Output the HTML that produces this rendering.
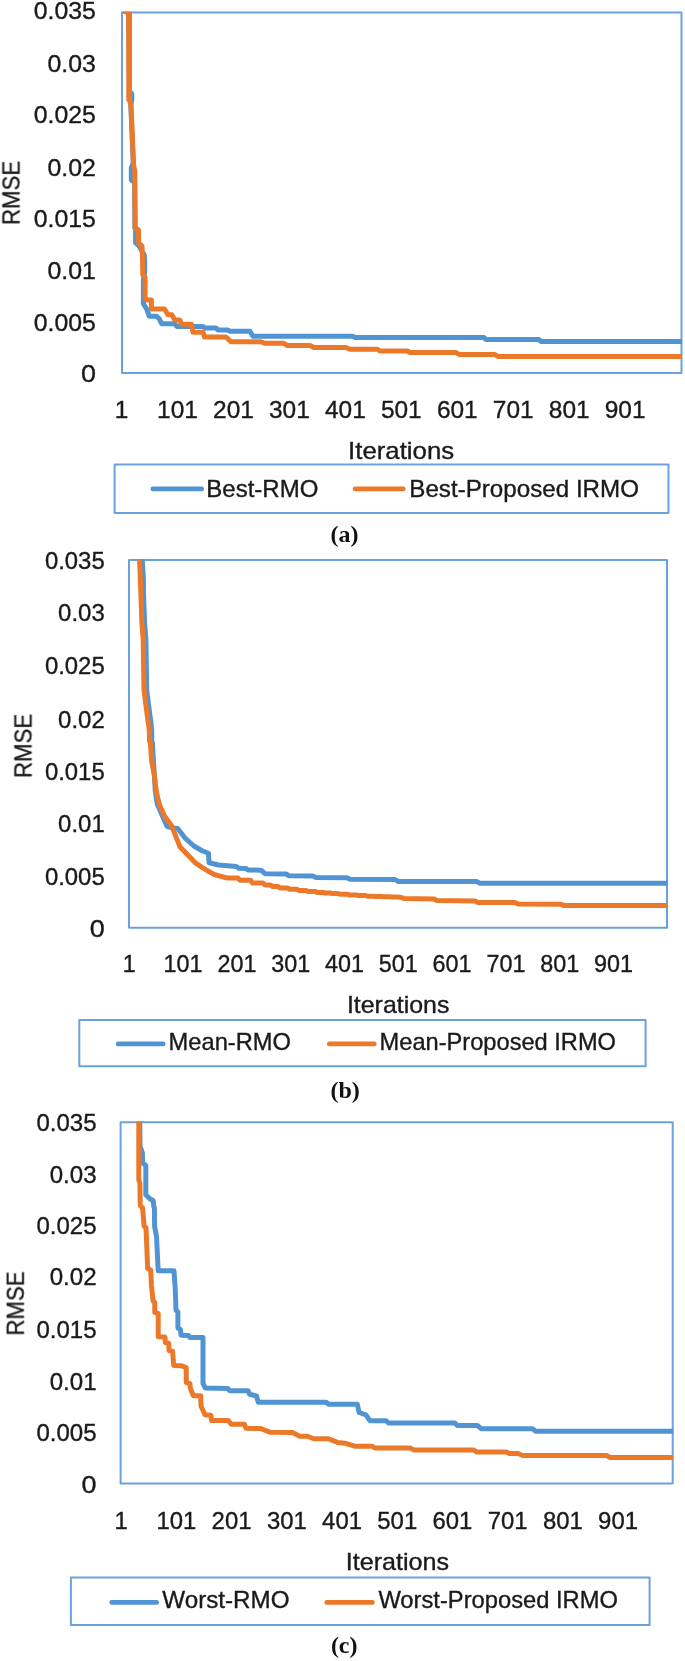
<!DOCTYPE html>
<html><head><meta charset="utf-8"><title>RMSE convergence</title>
<style>
html,body{margin:0;padding:0;background:#fff;}
body{width:685px;height:1661px;overflow:hidden;}
svg{display:block;filter:blur(0.5px);}
text{font-family:"Liberation Sans",sans-serif;fill:#1a1a1a;stroke:#1a1a1a;stroke-width:0.35px;}
.cap{stroke:none;font-family:"Liberation Serif",serif;font-weight:bold;font-size:24px;fill:#111;}
</style></head><body>
<svg width="685" height="1661" viewBox="0 0 685 1661">
<rect width="685" height="1661" fill="#ffffff"/>
<g id="chart0">
<clipPath id="clip0"><rect x="122" y="11.9" width="560.5" height="365.4"/></clipPath>
<rect x="122" y="12.6" width="559.5" height="360.4" fill="none" stroke="#6AA3DB" stroke-width="2" stroke-linejoin="round"/>
<g clip-path="url(#clip0)" fill="none" stroke-width="5" stroke-linejoin="round" stroke-linecap="butt">
<polyline stroke="#5194D3" points="122.5,4.0 128.8,13.0 129.6,91.0 131.8,94.0 131.8,100.0 130.8,105.0 133.2,163.0 131.3,168.0 131.3,180.0 134.6,182.0 134.9,228.0 135.6,230.0 135.6,243.0 139.0,246.0 144.3,255.0 144.7,262.0 144.7,272.0 143.4,280.0 143.4,303.8 147.0,309.6 149.2,316.2 156.5,316.2 159.4,319.0 161.6,323.8 174.7,323.8 177.0,326.5 203.0,326.5 205.0,328.0 216.0,328.0 218.0,330.0 228.0,330.0 230.0,331.3 250.0,331.3 253.0,336.3 353.0,336.3 355.0,337.5 484.0,337.5 486.0,339.5 539.0,339.5 541.0,341.5 682.0,341.5"/>
<polyline stroke="#EC7829" points="122.5,4.0 128.8,13.0 129.3,100.0 131.0,105.0 133.6,165.0 134.8,171.0 135.2,228.0 138.5,230.0 138.5,243.0 142.0,246.0 142.6,262.0 142.8,275.0 145.1,277.0 145.1,298.0 147.0,300.0 151.4,300.0 151.4,309.0 164.5,309.0 168.0,314.7 171.8,314.7 174.7,319.9 179.9,319.9 181.3,324.2 191.5,324.2 193.0,332.3 203.2,332.3 204.5,337.0 226.0,337.0 231.0,341.8 261.0,341.8 265.0,343.3 283.8,343.3 287.5,345.5 310.0,345.5 313.8,347.5 346.0,347.5 350.0,349.3 377.5,349.3 380.0,351.0 407.5,351.0 410.0,352.5 456.0,352.5 459.0,354.5 495.0,354.5 498.0,356.5 682.0,356.4"/>
<polyline stroke="#EC7829" stroke-width="5.6" points="129.2,10.0 129.2,101.0"/>
</g>
<polygon fill="#EC7829" points="122.9,11.5 132.0,11.5 132.0,15.0 127.0,15.0 122.9,13.4"/>
<rect x="114.6" y="464.4" width="553.9" height="48.5" fill="#fff" stroke="#6AA3DB" stroke-width="2" stroke-linejoin="round"/>
<line x1="152.8" y1="488.9" x2="201.7" y2="488.9" stroke="#5194D3" stroke-width="4.6" stroke-linecap="round"/>
<line x1="355" y1="488.9" x2="403.3" y2="488.9" stroke="#EC7829" stroke-width="4.6" stroke-linecap="round"/>
</g>
<g id="chart1">
<clipPath id="clip1"><rect x="129" y="559.3" width="539.0" height="372.79999999999995"/></clipPath>
<rect x="129" y="560.0" width="538.0" height="367.79999999999995" fill="none" stroke="#6AA3DB" stroke-width="2" stroke-linejoin="round"/>
<g clip-path="url(#clip1)" fill="none" stroke-width="5" stroke-linejoin="round" stroke-linecap="butt">
<polyline stroke="#5194D3" points="142.0,550.0 142.2,560.0 143.4,578.0 143.5,593.8 144.6,623.0 145.9,640.0 146.7,689.6 148.1,701.3 150.8,721.8 151.7,730.0 151.7,741.0 152.4,743.0 153.4,760.7 154.3,773.8 155.3,791.3 156.6,800.0 157.4,804.4 161.8,814.6 167.0,826.3 172.0,828.0 177.7,828.5 185.0,838.0 193.8,846.0 202.6,851.0 208.4,853.3 209.1,862.8 218.6,865.0 236.1,866.4 239.0,868.3 246.0,868.5 248.0,870.0 261.0,870.2 265.0,873.7 286.0,874.0 289.0,875.7 313.0,876.0 316.0,877.4 347.0,877.7 350.0,879.2 395.0,879.5 398.0,881.4 477.0,881.6 480.0,883.3 667.5,883.3"/>
<polyline stroke="#EC7829" points="139.4,550.0 139.6,560.0 140.9,593.8 141.9,623.0 143.2,640.0 144.0,689.6 145.4,701.3 148.1,721.8 149.3,730.0 149.5,741.0 150.4,743.0 151.6,760.7 154.1,773.8 156.3,791.3 158.2,800.0 159.9,805.9 164.5,816.0 171.9,826.3 179.9,846.7 195.3,862.8 204.0,868.6 214.2,874.5 227.4,878.1 238.0,878.1 240.0,880.3 250.5,880.3 252.5,883.0 263.0,883.0 265.0,885.0 270.5,885.0 272.5,886.5 278.0,886.5 280.0,888.0 287.4,888.0 289.4,889.2 296.7,889.2 298.7,890.4 306.0,890.4 308.0,891.4 315.4,891.4 317.4,892.4 322.9,892.4 324.9,893.0 330.5,893.0 332.5,893.6 338.0,893.6 340.0,894.2 347.1,894.2 349.1,894.9 356.2,894.9 358.2,895.5 365.3,895.5 367.3,896.2 373.5,896.2 375.5,896.5 381.6,896.5 383.6,896.7 389.8,896.7 391.8,897.0 398.0,897.0 400.0,897.2 403.7,898.4 434.0,898.9 437.0,900.4 475.0,900.9 478.0,902.4 515.0,902.6 518.0,904.1 561.0,904.3 564.0,905.6 667.5,905.6"/>
</g>
<rect x="79.3" y="1019.9" width="566.3000000000001" height="46.39999999999998" fill="#fff" stroke="#6AA3DB" stroke-width="2" stroke-linejoin="round"/>
<line x1="118" y1="1043.9" x2="163.2" y2="1043.9" stroke="#5194D3" stroke-width="4.6" stroke-linecap="round"/>
<line x1="329.2" y1="1043.9" x2="374.3" y2="1043.9" stroke="#EC7829" stroke-width="4.6" stroke-linecap="round"/>
</g>
<g id="chart2">
<clipPath id="clip2"><rect x="120.6" y="1121.5" width="553.1" height="366.39999999999986"/></clipPath>
<rect x="120.6" y="1122.2" width="552.1" height="361.39999999999986" fill="none" stroke="#6AA3DB" stroke-width="2" stroke-linejoin="round"/>
<g clip-path="url(#clip2)" fill="none" stroke-width="5" stroke-linejoin="round" stroke-linecap="butt">
<polyline stroke="#5194D3" points="139.5,1112.0 139.8,1122.0 140.0,1146.0 142.4,1153.0 142.6,1163.0 145.8,1165.5 145.8,1194.7 150.1,1199.0 153.1,1200.5 153.8,1206.4 154.4,1208.0 154.6,1226.3 156.5,1236.5 158.2,1270.8 174.0,1270.8 175.3,1290.0 176.0,1310.4 177.9,1311.9 177.9,1328.0 180.4,1329.4 181.1,1335.3 188.4,1335.5 189.9,1337.4 203.0,1337.4 203.0,1383.4 205.2,1388.0 227.7,1388.5 229.9,1390.7 248.1,1390.7 249.6,1394.3 256.5,1396.0 258.2,1402.2 326.1,1402.2 328.6,1404.2 357.3,1404.2 359.1,1412.5 366.1,1415.0 369.8,1420.7 386.0,1420.7 388.5,1423.0 454.9,1423.0 457.4,1425.4 477.4,1425.4 481.1,1428.7 532.5,1428.7 535.5,1431.2 673.2,1431.2"/>
<polyline stroke="#EC7829" points="138.6,1112.0 138.8,1122.0 138.8,1180.0 139.9,1183.0 140.2,1203.4 140.4,1205.8 142.6,1208.0 144.1,1226.3 146.0,1227.7 147.7,1268.6 150.7,1270.0 151.4,1284.7 153.1,1301.0 154.8,1302.4 154.8,1312.6 158.2,1313.4 158.2,1336.7 165.0,1337.0 165.3,1342.6 168.7,1343.3 169.1,1350.6 172.6,1351.3 173.7,1365.4 181.1,1365.7 186.2,1367.6 186.3,1382.6 189.8,1383.4 190.4,1388.5 193.4,1395.8 200.7,1395.8 201.0,1406.0 205.0,1414.7 210.9,1415.2 211.6,1420.6 228.4,1420.6 231.3,1424.2 244.5,1424.2 245.9,1428.3 260.5,1428.5 270.0,1432.2 292.4,1432.4 299.9,1436.2 307.4,1436.2 313.7,1438.7 328.6,1438.7 337.4,1442.4 344.9,1443.2 354.8,1446.2 372.3,1446.2 374.8,1447.9 410.0,1447.9 413.7,1449.9 473.7,1449.9 476.2,1451.9 506.1,1451.9 509.9,1453.6 518.6,1453.6 522.0,1455.4 606.4,1455.4 610.1,1457.5 673.2,1457.5"/>
</g>
<rect x="70.9" y="1577.6" width="578.7" height="47.5" fill="#fff" stroke="#6AA3DB" stroke-width="2" stroke-linejoin="round"/>
<line x1="111.7" y1="1602.4" x2="156.7" y2="1602.4" stroke="#5194D3" stroke-width="4.6" stroke-linecap="round"/>
<line x1="326.8" y1="1602.4" x2="372.4" y2="1602.4" stroke="#EC7829" stroke-width="4.6" stroke-linecap="round"/>
</g>
<g style="filter:grayscale(1)">
<text x="33.8" y="19.0" font-size="24" textLength="62.1" lengthAdjust="spacingAndGlyphs">0.035</text>
<text x="47.5" y="71.9" font-size="24" textLength="48.4" lengthAdjust="spacingAndGlyphs">0.03</text>
<text x="33.8" y="122.9" font-size="24" textLength="62.1" lengthAdjust="spacingAndGlyphs">0.025</text>
<text x="47.5" y="175.6" font-size="24" textLength="48.4" lengthAdjust="spacingAndGlyphs">0.02</text>
<text x="33.8" y="226.9" font-size="24" textLength="62.1" lengthAdjust="spacingAndGlyphs">0.015</text>
<text x="47.5" y="278.6" font-size="24" textLength="48.4" lengthAdjust="spacingAndGlyphs">0.01</text>
<text x="33.8" y="331.4" font-size="24" textLength="62.1" lengthAdjust="spacingAndGlyphs">0.005</text>
<text x="80.9" y="382.2" font-size="24" textLength="15.0" lengthAdjust="spacingAndGlyphs">0</text>
<text x="114.8"  y="417.8" font-size="24" textLength="13.6" lengthAdjust="spacingAndGlyphs">1</text>
<text x="157.1"  y="417.8" font-size="24" textLength="40.8" lengthAdjust="spacingAndGlyphs">101</text>
<text x="213.1"  y="417.8" font-size="24" textLength="40.8" lengthAdjust="spacingAndGlyphs">201</text>
<text x="269.0"  y="417.8" font-size="24" textLength="40.8" lengthAdjust="spacingAndGlyphs">301</text>
<text x="325.0"  y="417.8" font-size="24" textLength="40.8" lengthAdjust="spacingAndGlyphs">401</text>
<text x="380.9"  y="417.8" font-size="24" textLength="40.8" lengthAdjust="spacingAndGlyphs">501</text>
<text x="436.9"  y="417.8" font-size="24" textLength="40.8" lengthAdjust="spacingAndGlyphs">601</text>
<text x="492.8"  y="417.8" font-size="24" textLength="40.8" lengthAdjust="spacingAndGlyphs">701</text>
<text x="548.8"  y="417.8" font-size="24" textLength="40.8" lengthAdjust="spacingAndGlyphs">801</text>
<text x="604.7"  y="417.8" font-size="24" textLength="40.8" lengthAdjust="spacingAndGlyphs">901</text>
<text x="348.1" y="458.5" font-size="23.2" textLength="106.09999999999997" lengthAdjust="spacingAndGlyphs">Iterations</text>
<text transform="translate(19.5,224.9) rotate(-90)" font-size="23.2" textLength="64" lengthAdjust="spacingAndGlyphs">RMSE</text>
<text x="206.3" y="496.5" font-size="23.2" textLength="112.0" lengthAdjust="spacingAndGlyphs">Best-RMO</text>
<text x="409.3" y="496.5" font-size="23.2" textLength="229.7" lengthAdjust="spacingAndGlyphs">Best-Proposed IRMO</text>
<text class="cap" x="344.4" y="542" text-anchor="middle">(a)</text>
<text x="44.9" y="568.5" font-size="23.6" textLength="59.8" lengthAdjust="spacingAndGlyphs">0.035</text>
<text x="58.1" y="621.1" font-size="23.6" textLength="46.6" lengthAdjust="spacingAndGlyphs">0.03</text>
<text x="44.9" y="673.7" font-size="23.6" textLength="59.8" lengthAdjust="spacingAndGlyphs">0.025</text>
<text x="58.1" y="727.7" font-size="23.6" textLength="46.6" lengthAdjust="spacingAndGlyphs">0.02</text>
<text x="44.9" y="779.5" font-size="23.6" textLength="59.8" lengthAdjust="spacingAndGlyphs">0.015</text>
<text x="58.1" y="831.7" font-size="23.6" textLength="46.6" lengthAdjust="spacingAndGlyphs">0.01</text>
<text x="44.9" y="884.6" font-size="23.6" textLength="59.8" lengthAdjust="spacingAndGlyphs">0.005</text>
<text x="89.7" y="936.8" font-size="23.6" textLength="15.0" lengthAdjust="spacingAndGlyphs">0</text>
<text x="122.8"  y="971.5" font-size="23.6" textLength="13.0" lengthAdjust="spacingAndGlyphs">1</text>
<text x="163.6"  y="971.5" font-size="23.6" textLength="39.0" lengthAdjust="spacingAndGlyphs">101</text>
<text x="217.4"  y="971.5" font-size="23.6" textLength="39.0" lengthAdjust="spacingAndGlyphs">201</text>
<text x="271.2"  y="971.5" font-size="23.6" textLength="39.0" lengthAdjust="spacingAndGlyphs">301</text>
<text x="325.0"  y="971.5" font-size="23.6" textLength="39.0" lengthAdjust="spacingAndGlyphs">401</text>
<text x="378.8"  y="971.5" font-size="23.6" textLength="39.0" lengthAdjust="spacingAndGlyphs">501</text>
<text x="432.6"  y="971.5" font-size="23.6" textLength="39.0" lengthAdjust="spacingAndGlyphs">601</text>
<text x="486.4"  y="971.5" font-size="23.6" textLength="39.0" lengthAdjust="spacingAndGlyphs">701</text>
<text x="540.2"  y="971.5" font-size="23.6" textLength="39.0" lengthAdjust="spacingAndGlyphs">801</text>
<text x="594.0"  y="971.5" font-size="23.6" textLength="39.0" lengthAdjust="spacingAndGlyphs">901</text>
<text x="346.9" y="1012.6" font-size="23.2" textLength="102.5" lengthAdjust="spacingAndGlyphs">Iterations</text>
<text transform="translate(31.5,777.9) rotate(-90)" font-size="23.2" textLength="64" lengthAdjust="spacingAndGlyphs">RMSE</text>
<text x="168.6" y="1049.9" font-size="23.2" textLength="122.4" lengthAdjust="spacingAndGlyphs">Mean-RMO</text>
<text x="379.6" y="1049.9" font-size="23.2" textLength="236.39999999999998" lengthAdjust="spacingAndGlyphs">Mean-Proposed IRMO</text>
<text class="cap" x="345.2" y="1097.7" text-anchor="middle">(b)</text>
<text x="36.4" y="1130.5" font-size="24" textLength="60.2" lengthAdjust="spacingAndGlyphs">0.035</text>
<text x="49.7" y="1182.5" font-size="24" textLength="46.9" lengthAdjust="spacingAndGlyphs">0.03</text>
<text x="36.4" y="1234.3" font-size="24" textLength="60.2" lengthAdjust="spacingAndGlyphs">0.025</text>
<text x="49.7" y="1285.2" font-size="24" textLength="46.9" lengthAdjust="spacingAndGlyphs">0.02</text>
<text x="36.4" y="1337.7" font-size="24" textLength="60.2" lengthAdjust="spacingAndGlyphs">0.015</text>
<text x="49.7" y="1390.1" font-size="24" textLength="46.9" lengthAdjust="spacingAndGlyphs">0.01</text>
<text x="36.4" y="1441.2" font-size="24" textLength="60.2" lengthAdjust="spacingAndGlyphs">0.005</text>
<text x="81.6" y="1492.5" font-size="24" textLength="15.0" lengthAdjust="spacingAndGlyphs">0</text>
<text x="114.5"  y="1529" font-size="24" textLength="13.3" lengthAdjust="spacingAndGlyphs">1</text>
<text x="156.4"  y="1529" font-size="24" textLength="39.9" lengthAdjust="spacingAndGlyphs">101</text>
<text x="211.6"  y="1529" font-size="24" textLength="39.9" lengthAdjust="spacingAndGlyphs">201</text>
<text x="266.9"  y="1529" font-size="24" textLength="39.9" lengthAdjust="spacingAndGlyphs">301</text>
<text x="322.1"  y="1529" font-size="24" textLength="39.9" lengthAdjust="spacingAndGlyphs">401</text>
<text x="377.3"  y="1529" font-size="24" textLength="39.9" lengthAdjust="spacingAndGlyphs">501</text>
<text x="432.5"  y="1529" font-size="24" textLength="39.9" lengthAdjust="spacingAndGlyphs">601</text>
<text x="487.7"  y="1529" font-size="24" textLength="39.9" lengthAdjust="spacingAndGlyphs">701</text>
<text x="542.9"  y="1529" font-size="24" textLength="39.9" lengthAdjust="spacingAndGlyphs">801</text>
<text x="598.1"  y="1529" font-size="24" textLength="39.9" lengthAdjust="spacingAndGlyphs">901</text>
<text x="345.8" y="1570.4" font-size="23.2" textLength="103.30000000000001" lengthAdjust="spacingAndGlyphs">Iterations</text>
<text transform="translate(23.8,1335.5) rotate(-90)" font-size="23.2" textLength="64" lengthAdjust="spacingAndGlyphs">RMSE</text>
<text x="162.3" y="1608.2" font-size="23.2" textLength="127.19999999999999" lengthAdjust="spacingAndGlyphs">Worst-RMO</text>
<text x="378.4" y="1608.2" font-size="23.2" textLength="239.60000000000002" lengthAdjust="spacingAndGlyphs">Worst-Proposed IRMO</text>
<text class="cap" x="344.2" y="1653.2" text-anchor="middle">(c)</text>
</g>
</svg>
</body></html>
